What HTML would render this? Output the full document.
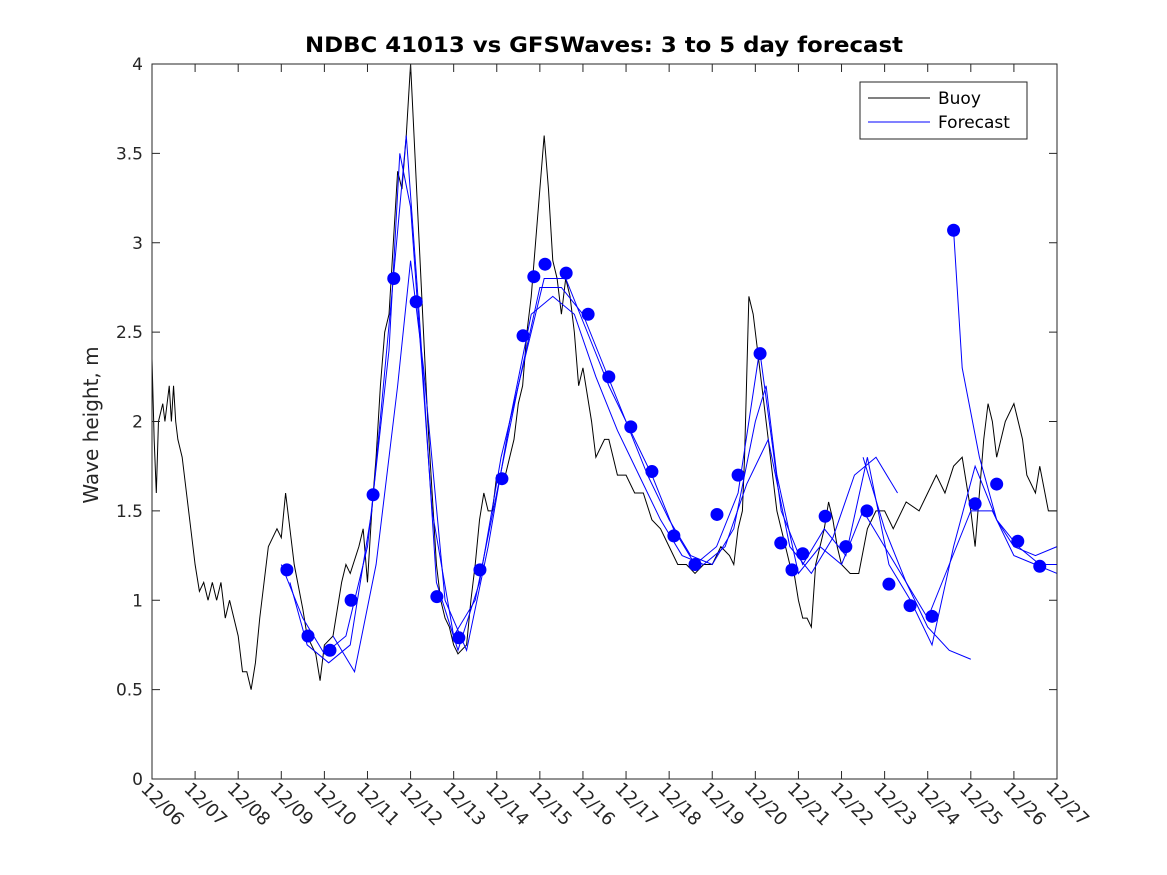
<!DOCTYPE html>
<html><head><meta charset="utf-8"><style>
body{margin:0;background:#fff;}
svg{display:block;font-family:"DejaVu Sans","Liberation Sans",sans-serif;}
</style></head><body>
<svg id="chart" width="1167" height="875">
<rect width="1167" height="875" fill="#fff"/>
<text x="305" y="52" textLength="598" lengthAdjust="spacingAndGlyphs" font-size="21" font-weight="bold" fill="#000">NDBC 41013 vs GFSWaves: 3 to 5 day forecast</text>
<text transform="translate(98,425) rotate(-90)" text-anchor="middle" font-size="20" fill="#262626">Wave height, m</text>
<g id="plot"></g>
<rect x="152" y="64" width="905" height="715" fill="none" stroke="#262626" stroke-width="1"/>
<g>
<rect x="860" y="82" width="167" height="57" fill="#fff" stroke="#262626"/>
<g><line x1="868" y1="98" x2="930" y2="98" stroke="#000"/><text x="938" y="104" font-size="17" fill="#000">Buoy</text></g>
<g><line x1="868" y1="122" x2="930" y2="122" stroke="#0000ff"/><text x="938" y="128" font-size="17" fill="#000">Forecast</text></g>
</g>
</svg>
<script>
const xLabels=["12/06","12/07","12/08","12/09","12/10","12/11","12/12","12/13","12/14","12/15","12/16","12/17","12/18","12/19","12/20","12/21","12/22","12/23","12/24","12/25","12/26","12/27"];
const yTicks=[0,0.5,1,1.5,2,2.5,3,3.5,4];
const buoyDays=[0,0.05,0.1,0.15,0.25,0.3,0.4,0.45,0.5,0.55,0.6,0.7,0.8,0.9,1.0,1.1,1.2,1.3,1.4,1.5,1.6,1.7,1.8,2.0,2.1,2.2,2.3,2.4,2.5,2.6,2.7,2.8,2.9,3.0,3.1,3.2,3.3,3.5,3.6,3.8,3.9,4.0,4.2,4.4,4.5,4.6,4.8,4.9,5.0,5.1,5.2,5.3,5.4,5.5,5.6,5.7,5.8,5.9,6.0,6.1,6.2,6.3,6.4,6.5,6.6,6.7,6.8,6.9,7.0,7.1,7.3,7.4,7.5,7.6,7.7,7.8,7.9,8.0,8.2,8.4,8.5,8.6,8.7,8.8,8.9,9.0,9.1,9.2,9.3,9.4,9.5,9.6,9.7,9.8,9.9,10.0,10.2,10.3,10.5,10.6,10.8,11.0,11.2,11.4,11.6,11.8,12.0,12.2,12.4,12.6,12.8,13.0,13.2,13.4,13.5,13.6,13.7,13.75,13.85,13.95,14.1,14.2,14.3,14.4,14.5,14.6,14.8,14.9,15.0,15.1,15.2,15.3,15.4,15.5,15.6,15.7,15.8,15.9,16.0,16.2,16.4,16.6,16.8,17.0,17.2,17.5,17.8,18.0,18.2,18.4,18.6,18.8,19.0,19.1,19.2,19.3,19.4,19.5,19.6,19.8,20.0,20.2,20.3,20.5,20.6,20.8,21.0];
const buoyVals=[2.35,1.9,1.6,2.0,2.1,2.0,2.2,2.0,2.2,2.0,1.9,1.8,1.6,1.4,1.2,1.05,1.1,1.0,1.1,1.0,1.1,0.9,1.0,0.8,0.6,0.6,0.5,0.65,0.9,1.1,1.3,1.35,1.4,1.35,1.6,1.4,1.2,0.95,0.8,0.7,0.55,0.75,0.8,1.1,1.2,1.15,1.3,1.4,1.1,1.5,1.8,2.2,2.5,2.6,3.0,3.4,3.3,3.6,4.0,3.5,3.0,2.5,2.0,1.6,1.2,1.0,0.9,0.85,0.75,0.7,0.75,1.0,1.2,1.45,1.6,1.5,1.5,1.7,1.7,1.9,2.1,2.2,2.5,2.7,3.0,3.3,3.6,3.3,2.9,2.8,2.6,2.8,2.7,2.5,2.2,2.3,2.0,1.8,1.9,1.9,1.7,1.7,1.6,1.6,1.45,1.4,1.3,1.2,1.2,1.15,1.2,1.2,1.3,1.25,1.2,1.4,1.5,1.8,2.7,2.6,2.3,2.1,1.9,1.7,1.5,1.4,1.2,1.15,1.0,0.9,0.9,0.85,1.2,1.3,1.4,1.55,1.45,1.3,1.2,1.15,1.15,1.4,1.5,1.5,1.4,1.55,1.5,1.6,1.7,1.6,1.75,1.8,1.5,1.3,1.6,1.9,2.1,2.0,1.8,2.0,2.1,1.9,1.7,1.6,1.75,1.5,1.5];
const fc1Days=[3.0,3.5,4.0,4.5,5.0,5.5,5.75,6.0,6.5,7.0,7.5,8.0,8.5,9.0,9.5,10.0,10.5,11.0,11.5,12.0,12.5,13.0,13.5,14.0,14.25,14.5,15.0,15.5,16.0,16.5,17.0,17.5,18.0,18.5,19.0,19.5,20.0,20.5,21.0];
const fc1Vals=[1.2,0.9,0.7,0.8,1.3,2.4,3.5,3.2,1.5,0.8,1.0,1.6,2.2,2.75,2.75,2.6,2.3,2.0,1.7,1.45,1.25,1.2,1.4,2.0,2.2,1.7,1.15,1.3,1.2,1.5,1.3,1.1,0.9,1.2,1.5,1.5,1.25,1.2,1.15];
const fc2Days=[3.2,3.6,4.1,4.6,5.1,5.6,5.9,6.2,6.6,7.1,7.6,8.1,8.6,9.1,9.6,10.1,10.6,11.1,11.6,12.1,12.6,13.1,13.6,14.1,14.6,15.1,15.6,16.1,16.6,17.1,17.6,18.1,18.6,19.1,19.6,20.1,20.6,21.0];
const fc2Vals=[1.1,0.75,0.65,0.75,1.5,2.8,3.6,2.6,1.1,0.72,1.1,1.8,2.3,2.8,2.8,2.5,2.2,1.95,1.7,1.4,1.2,1.3,1.6,2.4,1.5,1.2,1.4,1.25,1.8,1.2,1.0,0.75,1.3,1.75,1.45,1.3,1.2,1.2];
const fc3Days=[4.2,4.7,5.2,5.7,6.0,6.3,6.8,7.3,7.8,8.3,8.8,9.3,9.8,10.3,10.8,11.3,11.8,12.3,12.8,13.3,13.8,14.3,14.8,15.3,15.8,16.3,16.8,17.3];
const fc3Vals=[0.8,0.6,1.2,2.2,2.9,2.3,1.0,0.72,1.3,2.0,2.6,2.7,2.6,2.25,1.95,1.7,1.45,1.25,1.2,1.3,1.65,1.9,1.3,1.15,1.35,1.7,1.8,1.6];
const fc4Days=[16.5,17.0,17.5,18.0,18.5,19.0];
const fc4Vals=[1.8,1.4,1.1,0.85,0.72,0.67];
const fc5Days=[18.6,18.8,19.2,19.6,20.0,20.5,21.0];
const fc5Vals=[3.07,2.3,1.8,1.45,1.3,1.25,1.3];
const dotDays=[3.13,3.62,4.13,4.62,5.13,5.61,6.13,6.61,7.12,7.61,8.12,8.61,8.86,9.12,9.61,10.12,10.6,11.11,11.6,12.11,12.6,13.11,13.6,14.11,14.59,14.85,15.1,15.62,16.1,16.59,17.1,17.59,18.1,18.6,19.1,19.6,20.09,20.6];
const dotVals=[1.17,0.8,0.72,1.0,1.59,2.8,2.67,1.02,0.79,1.17,1.68,2.48,2.81,2.88,2.83,2.6,2.25,1.97,1.72,1.36,1.2,1.48,1.7,2.38,1.32,1.17,1.26,1.47,1.3,1.5,1.09,0.97,0.91,3.07,1.54,1.65,1.33,1.19];

const X0=152,X1=1057,Y0=779,Y1=64;
const xs=d=>X0+d*(X1-X0)/21;
const ys=v=>Y0-v*(Y0-Y1)/4;
const NS="http://www.w3.org/2000/svg";
const svg=document.getElementById('chart');
const plot=document.getElementById('plot');
function mk(t,a,p){const e=document.createElementNS(NS,t);for(const k in a)e.setAttribute(k,a[k]);(p||svg).appendChild(e);return e;}

yTicks.forEach(v=>{
  const g=mk('g',{});
  
  
  mk('line',{x1:X0,x2:X0+8,y1:ys(v),y2:ys(v),stroke:'#262626'},g);
  mk('line',{x1:X1,x2:X1-8,y1:ys(v),y2:ys(v),stroke:'#262626'},g);
  const t=mk('text',{x:X0-9,y:ys(v)+6,'text-anchor':'end','font-size':17,fill:'#262626'},g);
  t.textContent=String(v);
});
xLabels.forEach((s,i)=>{
  const x=xs(i);
  const g=mk('g',{});
  
  
  mk('line',{x1:x,x2:x,y1:Y0,y2:Y0-8,stroke:'#262626'},g);
  mk('line',{x1:x,x2:x,y1:Y1,y2:Y1+8,stroke:'#262626'},g);
  const t=mk('text',{transform:`translate(${x-12},${Y0+11}) rotate(45)`,'font-size':18,fill:'#262626'},g);
  t.textContent=s;
});
function line(days,vals,color,name){
  const p=mk('polyline',{points:days.map((d,i)=>xs(d)+','+ys(vals[i])).join(' '),fill:'none',stroke:color,'stroke-width':1},plot);
  
  
}
line(buoyDays,buoyVals,'#000','buoy-line');
line(fc1Days,fc1Vals,'#0000ff','forecast-line-1');
line(fc2Days,fc2Vals,'#0000ff','forecast-line-2');
line(fc3Days,fc3Vals,'#0000ff','forecast-line-3');
line(fc4Days,fc4Vals,'#0000ff','forecast-line-4');
line(fc5Days,fc5Vals,'#0000ff','forecast-line-5');
dotDays.forEach((d,i)=>{
  const c=mk('circle',{cx:xs(d),cy:ys(dotVals[i]),r:6.5,fill:'#0000ff'},plot);
  
  
});
</script>
</body></html>
